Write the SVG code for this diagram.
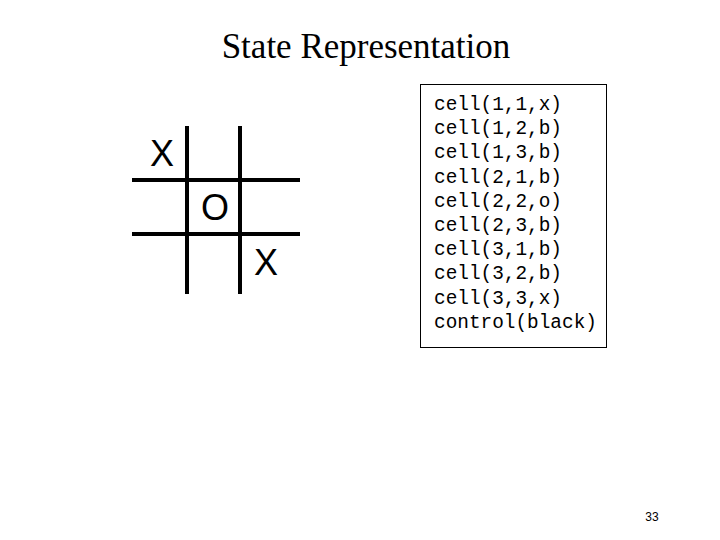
<svg xmlns="http://www.w3.org/2000/svg" width="720" height="540" viewBox="0 0 720 540">
<style>
.grid line{stroke:#000;stroke-width:4}
.mark{font-family:"Liberation Sans",Arial,sans-serif;font-size:36px;text-anchor:middle;fill:#000}
.code{font-family:"Liberation Mono","Courier New",monospace;font-size:19.4px;fill:#000}
</style>
<rect width="720" height="540" fill="#fff"/>
<text id="title" x="366" y="58" font-family="Liberation Serif,'Times New Roman',serif" font-size="35" text-anchor="middle">State Representation</text>
<g id="board">
<g class="grid">
<line x1="187" y1="126" x2="187" y2="294"/>
<line x1="240" y1="126" x2="240" y2="294"/>
<line x1="132" y1="180" x2="300" y2="180"/>
<line x1="132" y1="234" x2="300" y2="234"/>
</g>
<text class="mark" x="162" y="166">X</text>
<text class="mark" x="215" y="220">O</text>
<text class="mark" x="266" y="275">X</text>
</g>
<g id="state">
<rect x="420.5" y="84.5" width="186" height="263" fill="#fff" stroke="#000" stroke-width="1"/>
<text class="code" x="434" y="110">cell(1,1,x)</text>
<text class="code" x="434" y="134.2">cell(1,2,b)</text>
<text class="code" x="434" y="158.4">cell(1,3,b)</text>
<text class="code" x="434" y="182.6">cell(2,1,b)</text>
<text class="code" x="434" y="206.8">cell(2,2,o)</text>
<text class="code" x="434" y="231">cell(2,3,b)</text>
<text class="code" x="434" y="255.2">cell(3,1,b)</text>
<text class="code" x="434" y="279.4">cell(3,2,b)</text>
<text class="code" x="434" y="303.6">cell(3,3,x)</text>
<text class="code" x="434" y="327.8">control(black)</text>
</g>
<text id="page" x="652" y="521" font-family="Liberation Sans,Arial,sans-serif" font-size="12" text-anchor="middle">33</text>
</svg>
